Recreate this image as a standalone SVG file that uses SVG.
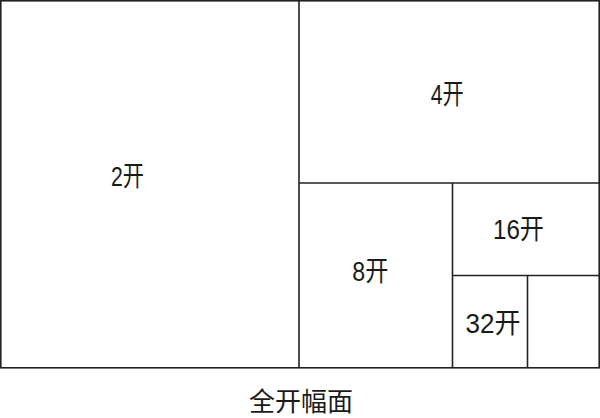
<svg xmlns="http://www.w3.org/2000/svg" width="600" height="418" viewBox="0 0 600 418">
<style>
.ln{fill:none;stroke:#222;stroke-width:1.6}
.lbl{font-family:"Liberation Sans","Noto Sans CJK SC",sans-serif;font-size:28px;fill:#1a1a1a;text-anchor:middle}
.cap{font-family:"Noto Sans CJK SC",sans-serif;font-size:26px;fill:#1a1a1a;text-anchor:middle}
</style>
<rect width="600" height="418" fill="#fff"/>
<g id="connectors">
<rect class="ln" x="0.8" y="0.8" width="598.4" height="367"/>
<line class="ln" x1="299" y1="0.8" x2="299" y2="367.8"/>
<line class="ln" x1="299" y1="183" x2="599.2" y2="183"/>
<line class="ln" x1="452.5" y1="183" x2="452.5" y2="367.8"/>
<line class="ln" x1="452.5" y1="275.5" x2="599.2" y2="275.5"/>
<line class="ln" x1="527.5" y1="275.5" x2="527.5" y2="367.8"/>
</g>
<g id="n2"><text class="lbl" x="127.5" y="186" textLength="33" lengthAdjust="spacingAndGlyphs">2开</text></g>
<g id="n4"><text class="lbl" x="447.3" y="104" textLength="33" lengthAdjust="spacingAndGlyphs">4开</text></g>
<g id="n8"><text class="lbl" x="370.3" y="281" textLength="36" lengthAdjust="spacingAndGlyphs">8开</text></g>
<g id="n16"><text class="lbl" x="518.5" y="239" textLength="51" lengthAdjust="spacingAndGlyphs">16开</text></g>
<g id="n32"><text class="lbl" x="493" y="333" textLength="55" lengthAdjust="spacingAndGlyphs">32开</text></g>
<g id="caption"><text class="cap" x="301" y="411">全开幅面</text></g>
</svg>
